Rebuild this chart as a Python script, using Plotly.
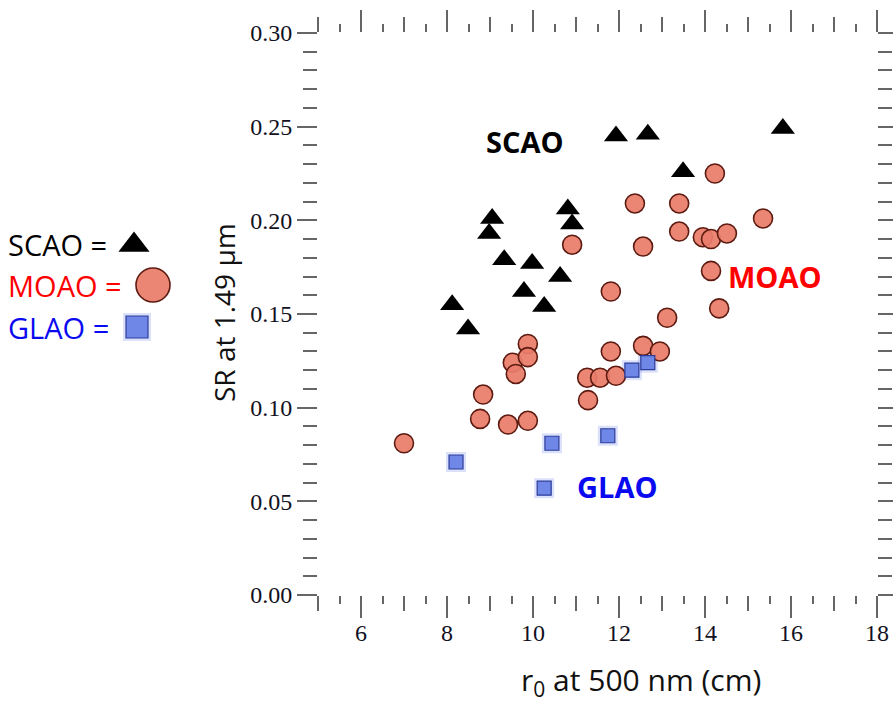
import plotly.graph_objects as go

# ---------------- data ----------------
scao_r0 = [8.12, 8.49, 9.05, 8.98, 9.33, 9.98, 9.79, 10.63, 10.26, 10.81, 10.91, 11.93, 12.67, 13.49, 15.81]
scao_sr = [0.155, 0.142, 0.201, 0.193, 0.179, 0.177, 0.162, 0.170, 0.154, 0.206, 0.198, 0.245, 0.246, 0.226, 0.249]

moao_r0 = [7.00, 8.77, 8.84, 9.42, 9.53, 9.60, 9.88, 9.88, 9.88, 10.91, 11.26, 11.28, 11.56, 11.81, 11.81,
           11.93, 12.37, 12.56, 12.56, 12.95, 13.12, 13.40, 13.40, 13.95, 14.14, 14.14, 14.23, 14.33, 14.51, 15.35]
moao_sr = [0.081, 0.094, 0.107, 0.091, 0.124, 0.118, 0.134, 0.127, 0.093, 0.187, 0.116, 0.104, 0.116, 0.162, 0.130,
           0.117, 0.209, 0.186, 0.133, 0.130, 0.148, 0.209, 0.194, 0.191, 0.190, 0.173, 0.225, 0.153, 0.193, 0.201]

glao_r0 = [8.21, 10.44, 10.26, 11.74, 12.30, 12.67]
glao_sr = [0.071, 0.081, 0.057, 0.085, 0.120, 0.124]

series_names = ["SCAO", "MOAO", "GLAO"]
series_colors = ["#000000", "#ff0000", "#0a0af0"]

x_range = [5, 18]
y_range = [0, 0.30]

# ---------------- styles ----------------
W, H = 893, 702
FONT_SANS = "Open Sans"
FONT_SERIF = "Liberation Serif"
TICK_COL = "#666666"

tri_style = dict(symbol="triangle-up", size=21, color="#000000", line=dict(width=0))
circ_style = dict(symbol="circle", size=19, color="rgba(233,125,107,0.93)",
                  line=dict(color="#5c1a10", width=1.6))
sq_style = dict(symbol="square", size=14, color="#6f87e6",
                line=dict(color="#2d3c9a", width=1.2))
sq_glow = dict(symbol="square", size=20, color="rgba(90,120,235,0.22)", line=dict(width=0))

fig = go.Figure()

# glow under GLAO squares
fig.add_trace(go.Scatter(x=glao_r0, y=glao_sr, mode="markers", marker=sq_glow,
                         hoverinfo="skip", showlegend=False))
fig.add_trace(go.Scatter(x=scao_r0, y=scao_sr, mode="markers", marker=tri_style,
                         name="SCAO", showlegend=False))
fig.add_trace(go.Scatter(x=moao_r0, y=moao_sr, mode="markers", marker=circ_style,
                         name="MOAO", showlegend=False))
fig.add_trace(go.Scatter(x=glao_r0, y=glao_sr, mode="markers", marker=sq_style,
                         name="GLAO", showlegend=False))

# helper trace so the half-unit tick axis is drawn
fig.add_trace(go.Scatter(x=[None], y=[None], xaxis="x3", yaxis="y",
                         showlegend=False, hoverinfo="skip"))

# legend key icons (left side, on a hidden pixel-unit axis)
key_x = [134, 153, 137]
key_y = [245, 285, 327]
key_styles = [dict(tri_style, size=27), dict(circ_style, size=34),
              dict(sq_style, size=22)]
fig.add_trace(go.Scatter(x=[key_x[2]], y=[key_y[2]], xaxis="x2", yaxis="y2", mode="markers",
                         marker=dict(sq_glow, size=28), showlegend=False, hoverinfo="skip"))
for kx, ky, ks in zip(key_x, key_y, key_styles):
    fig.add_trace(go.Scatter(x=[kx], y=[ky], xaxis="x2", yaxis="y2", mode="markers",
                             marker=ks, showlegend=False, hoverinfo="skip"))

x_dom = [318 / W, 877 / W]
y_dom = [1 - 595 / H, 1 - 33 / H]

common_tick = dict(ticks="outside", tickcolor=TICK_COL, tickwidth=1.5, automargin=False,
                   showline=False, showgrid=False, zeroline=False, mirror="ticks")

fig.update_layout(
    width=W, height=H,
    margin=dict(l=0, r=0, t=0, b=0, pad=0, autoexpand=False),
    paper_bgcolor="white", plot_bgcolor="white",
    showlegend=False,
    xaxis=dict(domain=x_dom, range=x_range, anchor="y",
               tickmode="linear", tick0=0, dtick=2, ticklen=22, ticklabelstandoff=-6,
               minor=dict(tick0=0, dtick=1, ticklen=15, ticks="outside",
                          tickcolor=TICK_COL, tickwidth=1.5, showgrid=False),
               tickfont=dict(family=FONT_SERIF, size=24, color="#111122"),
               **common_tick),
    xaxis3=dict(range=x_range, overlaying="x", anchor="y", side="bottom",
                tickmode="linear", tick0=0, dtick=0.5, ticklen=8,
                showticklabels=False, **common_tick),
    yaxis=dict(domain=y_dom, range=y_range, anchor="x",
               tickmode="linear", tick0=0, dtick=0.05, ticklen=20, tickformat=".2f",
               minor=dict(tick0=0, dtick=0.01, ticklen=14, ticks="outside",
                          tickcolor=TICK_COL, tickwidth=1.5, showgrid=False),
               tickfont=dict(family=FONT_SERIF, size=24, color="#111122"),
               **common_tick),
    xaxis2=dict(domain=[0, 0.25], range=[0, 0.25 * W], visible=False, anchor="y2", automargin=False),
    yaxis2=dict(domain=[0, 1], range=[H, 0], visible=False, anchor="x2", automargin=False),
)

annotations = []
# axis titles
annotations.append(dict(text="SR at 1.49 µm", x=224 / W, y=1 - 313 / H, xref="paper", yref="paper",
                        textangle=-90, showarrow=False, xanchor="center", yanchor="middle",
                        font=dict(family=FONT_SANS, size=28, color="#111111")))
annotations.append(dict(text="r<sub>0</sub> at 500 nm (cm)", x=641 / W, y=1 - 681 / H,
                        xref="paper", yref="paper", showarrow=False,
                        xanchor="center", yanchor="middle",
                        font=dict(family=FONT_SANS, size=30, color="#111111")))
# left-hand key text
for name, col, ky in zip(series_names, series_colors, key_y):
    annotations.append(dict(text=f"{name} =", x=6 / W, y=1 - ky / H, xref="paper", yref="paper",
                            showarrow=False, xanchor="left", yanchor="middle",
                            font=dict(family=FONT_SANS, size=29, color=col)))
# in-plot group labels
label_pos = [(9.81, 0.242), (15.63, 0.170), (11.95, 0.058)]
for name, col, (lx, ly) in zip(series_names, series_colors, label_pos):
    annotations.append(dict(text=f"<b>{name}</b>", x=lx, y=ly, xref="x", yref="y",
                            showarrow=False, xanchor="center", yanchor="middle",
                            font=dict(family=FONT_SANS, size=29, color=col)))
fig.update_layout(annotations=annotations)

fig.write_html("out.html")
